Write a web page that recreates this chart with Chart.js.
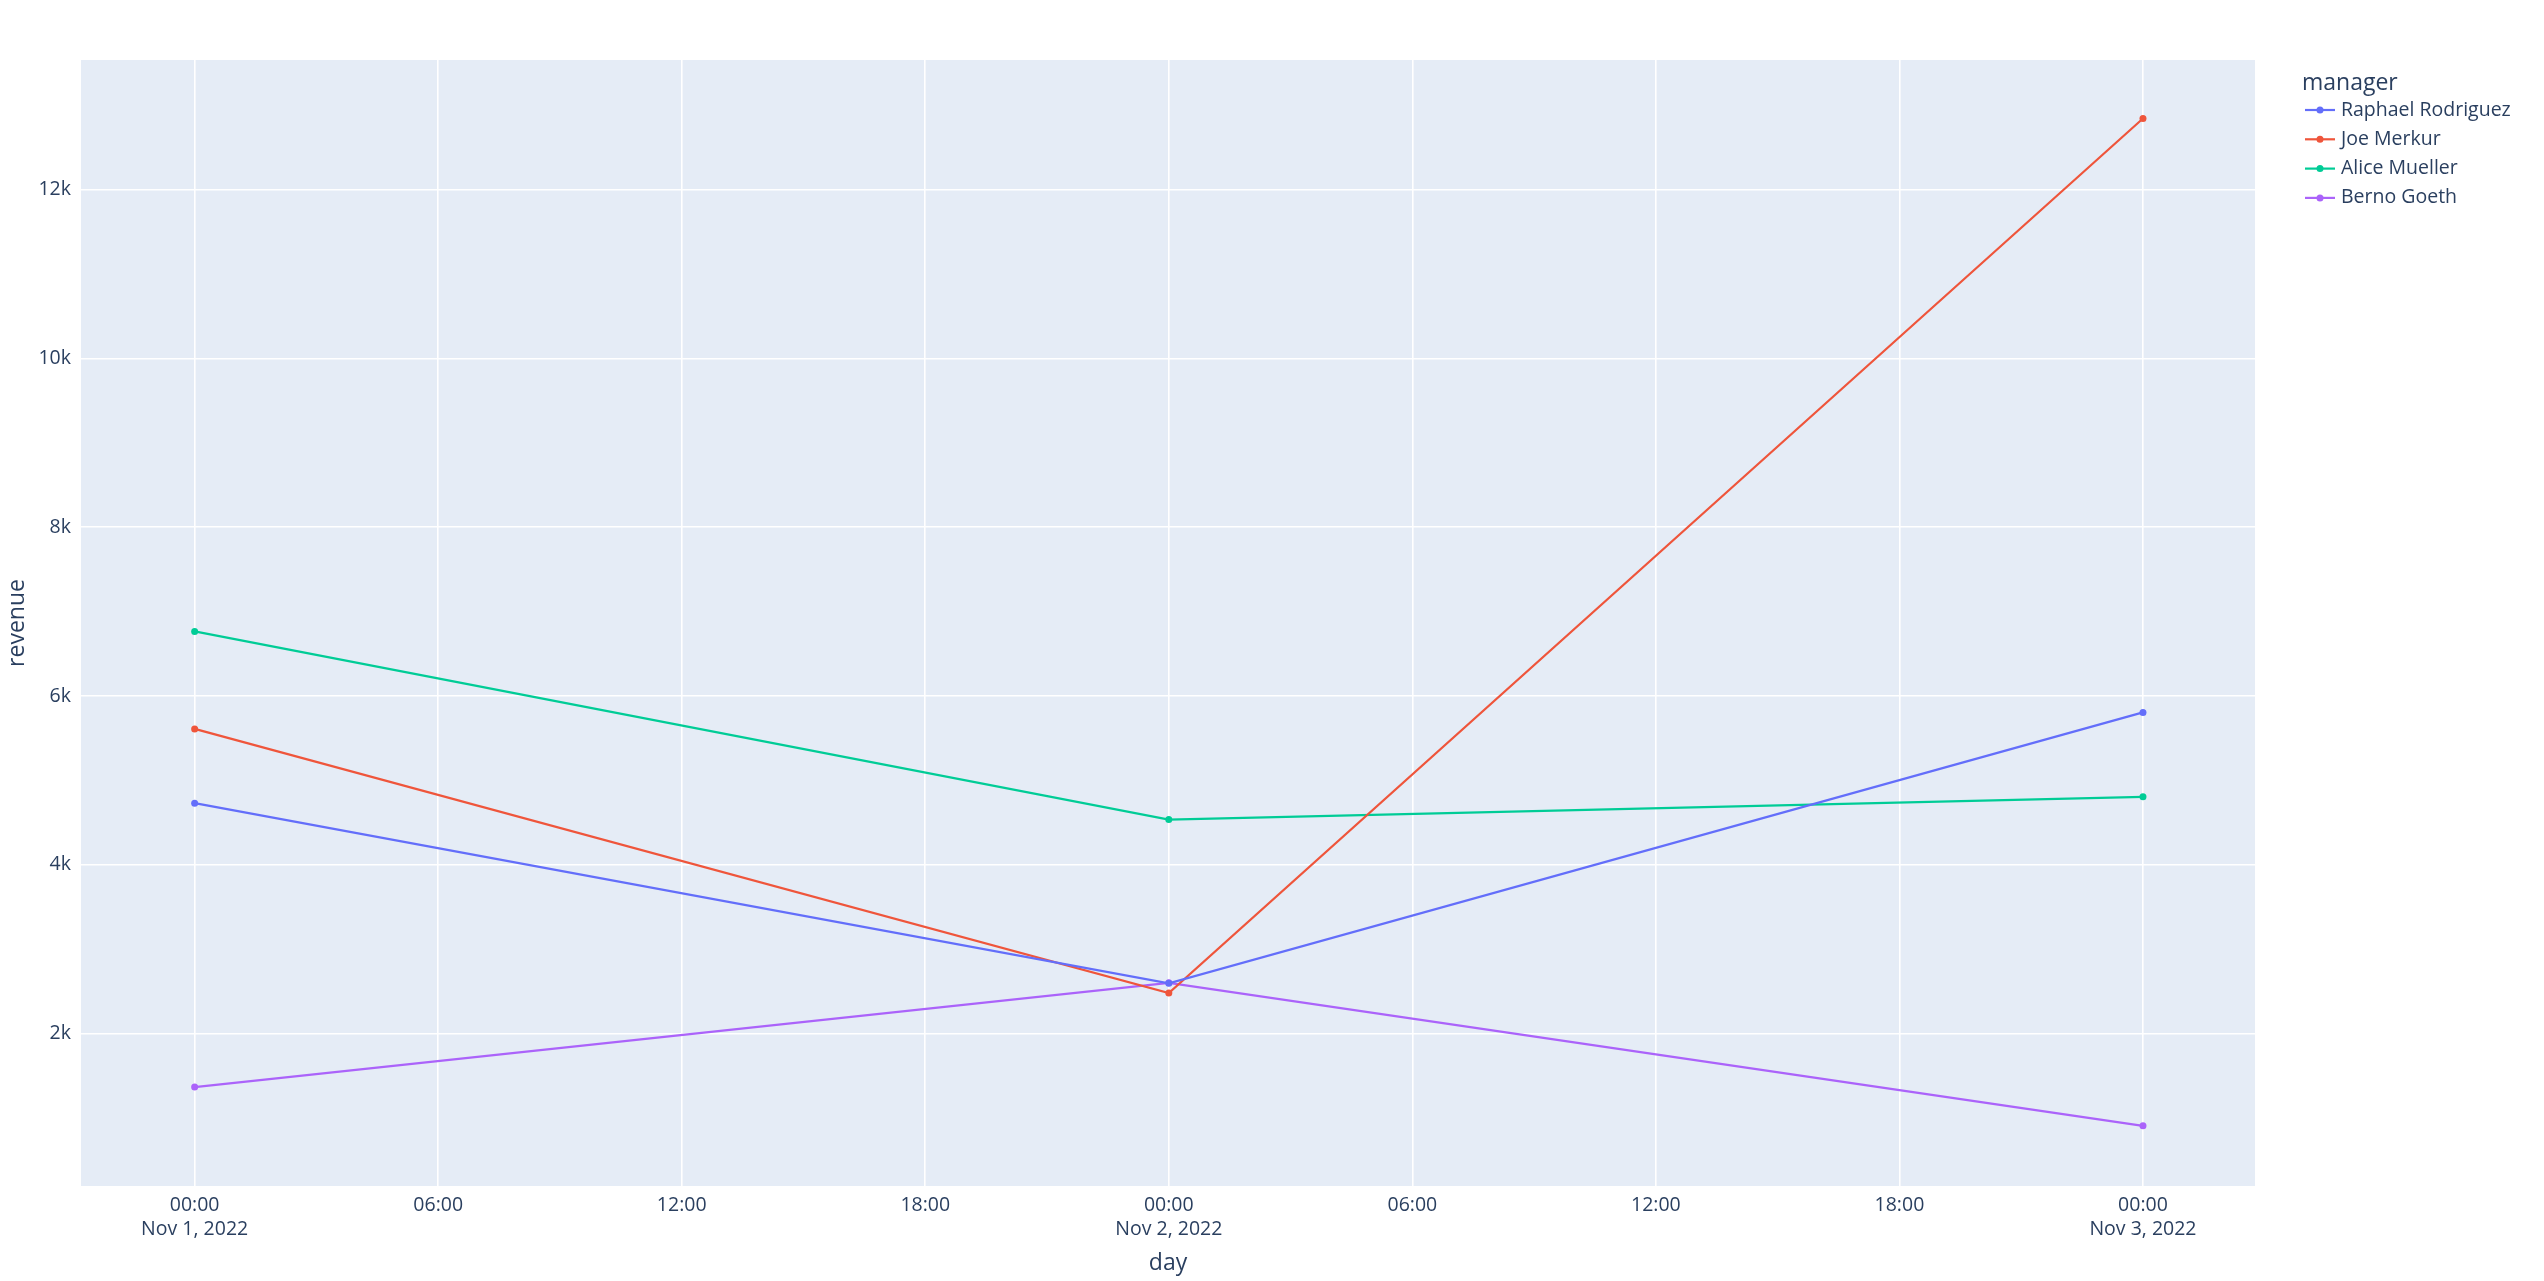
<!DOCTYPE html>
<html><head><meta charset="utf-8">
<script src="https://cdn.jsdelivr.net/npm/chart.js@4"></script>
<style>html,body{margin:0;padding:0;background:#fff}#w{width:2544px;height:1281px}</style>
</head><body><div id="w"><canvas id="c"></canvas></div>
<script>
const hours = [0, 24, 48];
const dayLabels = ['Nov 1, 2022', 'Nov 2, 2022', 'Nov 3, 2022'];
const managers = ['Raphael Rodriguez', 'Joe Merkur', 'Alice Mueller', 'Berno Goeth'];
const colors = ['#636efa', '#EF553B', '#00cc96', '#ab63fa'];
const raphael = [4730, 2595, 5805];
const joe = [5610, 2480, 12845];
const alice = [6765, 4535, 4805];
const berno = [1365, 2600, 905];
const yTicks = [2000, 4000, 6000, 8000, 10000, 12000];
const xTicks = [0, 6, 12, 18, 24, 30, 36, 42, 48];
const series = [raphael, joe, alice, berno];
const FONT = '"Open Sans", sans-serif';
const fc = '#2a3f5f';

const datasets = managers.map((m, i) => ({
  label: m,
  data: hours.map((h, j) => ({x: h, y: series[i][j]})),
  borderColor: colors[i], backgroundColor: colors[i],
  borderWidth: 2.2, pointRadius: 3.5, pointBorderWidth: 0, tension: 0
}));

const legendPlugin = {
  id: 'legendCustom',
  afterDraw(chart) {
    const ctx = chart.ctx;
    ctx.save();
    ctx.fillStyle = fc; ctx.textBaseline = 'middle';
    ctx.font = '23px ' + FONT;
    ctx.fillText('manager', 2302, 83);
    ctx.font = '19.5px ' + FONT;
    managers.forEach((m, i) => {
      const y = 110 + i * 29.3;
      ctx.strokeStyle = colors[i]; ctx.lineWidth = 2.2;
      ctx.beginPath(); ctx.moveTo(2305, y); ctx.lineTo(2335, y); ctx.stroke();
      ctx.fillStyle = colors[i];
      ctx.beginPath(); ctx.arc(2320, y, 3.5, 0, Math.PI * 2); ctx.fill();
      ctx.fillStyle = fc;
      ctx.fillText(m, 2341, y);
    });
    ctx.restore();
  }
};
const bgPlugin = {
  id: 'bg',
  beforeDraw(chart) {
    const a = chart.chartArea, ctx = chart.ctx;
    ctx.save(); ctx.fillStyle = '#E5ECF6';
    ctx.fillRect(a.left, a.top, a.right - a.left, a.bottom - a.top);
    ctx.restore();
  }
};

new Chart(document.getElementById('c'), {
  type: 'line',
  data: {datasets},
  plugins: [bgPlugin, legendPlugin],
  options: {
    responsive: true, maintainAspectRatio: false, animation: false,
    layout: {padding: {top: 60, right: 289, left: 0, bottom: 0}},
    plugins: {legend: {display: false}, tooltip: {enabled: false}},
    scales: {
      x: {
        type: 'linear', min: -2.8, max: 50.76,
        afterBuildTicks(s) { s.ticks = xTicks.map(v => ({value: v})); },
        afterFit(s) { s.height = 95; },
        grid: {color: '#ffffff', lineWidth: 1.6, drawTicks: false},
        border: {display: false},
        ticks: {
          color: fc, font: {family: FONT, size: 19.5}, padding: 8, maxRotation: 0, autoSkip: false,
          callback(v) {
            const hh = String(v % 24).padStart(2, '0') + ':00';
            return v % 24 === 0 ? [hh, dayLabels[v / 24]] : hh;
          }
        },
        title: {display: true, text: 'day', color: fc, font: {family: FONT, size: 23}, padding: {top: 2}}
      },
      y: {
        type: 'linear', min: 192, max: 13538,
        afterBuildTicks(s) { s.ticks = yTicks.map(v => ({value: v})); },
        afterFit(s) { s.width = 81; },
        grid: {color: '#ffffff', lineWidth: 1.6, drawTicks: false},
        border: {display: false},
        ticks: {
          color: fc, font: {family: FONT, size: 19.5}, padding: 10,
          callback(v) { return (v / 1000) + 'k'; }
        },
        title: {display: true, text: 'revenue', color: fc, font: {family: FONT, size: 23}, padding: {bottom: 4}}
      }
    }
  }
});
</script></body></html>
